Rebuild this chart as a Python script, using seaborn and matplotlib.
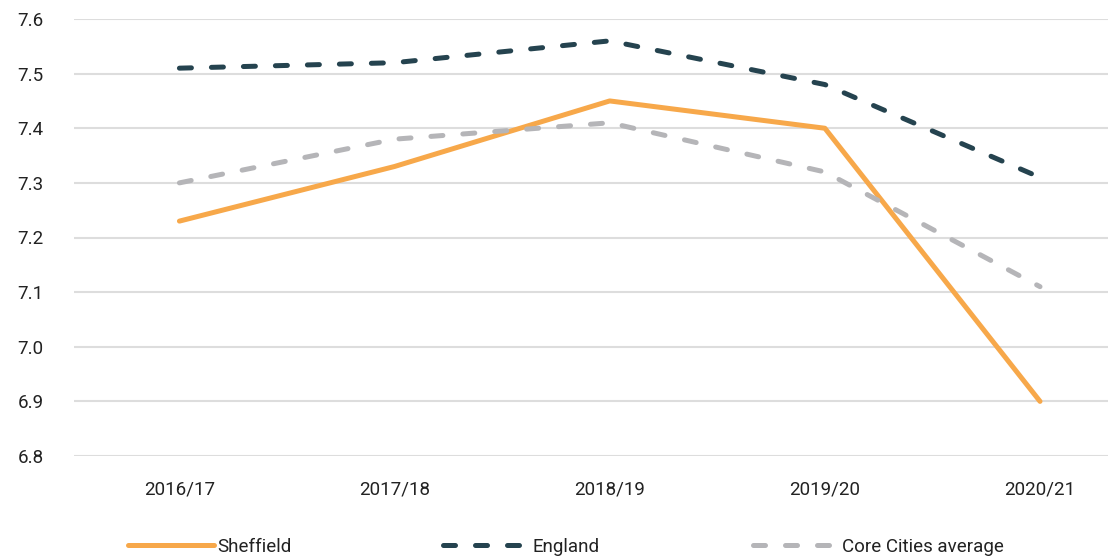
import matplotlib
matplotlib.use("Agg")
import matplotlib.pyplot as plt
from matplotlib.lines import Line2D
import seaborn as sns
import pandas as pd

# Datos
anios = ["2016/17", "2017/18", "2018/19", "2019/20", "2020/21"]
sheffield = [7.23, 7.33, 7.45, 7.40, 6.90]
england = [7.51, 7.52, 7.56, 7.48, 7.31]
core_cities = [7.30, 7.38, 7.41, 7.32, 7.11]
ticks_y = [6.8, 6.9, 7.0, 7.1, 7.2, 7.3, 7.4, 7.5, 7.6]

series = {"Sheffield": sheffield, "England": england, "Core Cities average": core_cities}
colores = {"Sheffield": "#F7A84A", "England": "#25434F", "Core Cities average": "#B5B5B8"}
guiones = {"Sheffield": "", "England": (2.4, 4.0), "Core Cities average": (2.4, 4.0)}

filas = []
for nombre, valores in series.items():
    for i, v in enumerate(valores):
        filas.append({"pos": i, "anio": anios[i], "valor": v, "serie": nombre})
datos = pd.DataFrame(filas)

sns.set_style("white")
plt.rcParams["font.family"] = ["Roboto", "DejaVu Sans"]

figura = plt.figure(figsize=(11.08, 5.6), dpi=100)
ax = figura.add_axes([74 / 1108, 1 - 456 / 560, 1 - 74 / 1108, (456 - 19) / 560])

grosor = 3.6
sns.lineplot(data=datos, x="pos", y="valor", hue="serie", style="serie",
             palette=colores, dashes=guiones, linewidth=grosor, ax=ax, legend=False)
for linea in ax.get_lines():
    linea.set_solid_capstyle("round")
    linea.set_dash_capstyle("round")

ax.set_xlim(-0.49, 4.316)
ax.set_ylim(6.8, 7.6)
ax.set_yticks(ticks_y)
ax.set_yticklabels([f"{t:.1f}" for t in ticks_y])
ax.set_xticks(range(len(anios)))
ax.set_xticklabels(anios)
ax.tick_params(axis="both", labelsize=13.5, length=0, colors="#222222")
ax.tick_params(axis="y", pad=22)
ax.tick_params(axis="x", pad=18)
ax.grid(axis="y", color="#DDDDDD", linewidth=1.5)
ax.set_xlabel("")
ax.set_ylabel("")
for lado in ax.spines.values():
    lado.set_visible(False)

# Leyenda en la parte inferior, una entrada por posición
posiciones = {"Sheffield": 128, "England": 443, "Core Cities average": 753}
for nombre in series:
    manejador = Line2D([], [], color=colores[nombre], linewidth=grosor,
                       dashes=guiones[nombre] if guiones[nombre] else (None, None),
                       solid_capstyle="round", dash_capstyle="round")
    leyenda = figura.legend([manejador], [nombre], loc="center left",
                            bbox_to_anchor=(posiciones[nombre] / 1108, 13 / 560),
                            frameon=False, fontsize=13.5, handlelength=4.6,
                            handletextpad=0.15, borderpad=0, borderaxespad=0)
    for texto in leyenda.get_texts():
        texto.set_color("#222222")

figura.savefig("out.png", dpi=100)
plt.close(figura)
